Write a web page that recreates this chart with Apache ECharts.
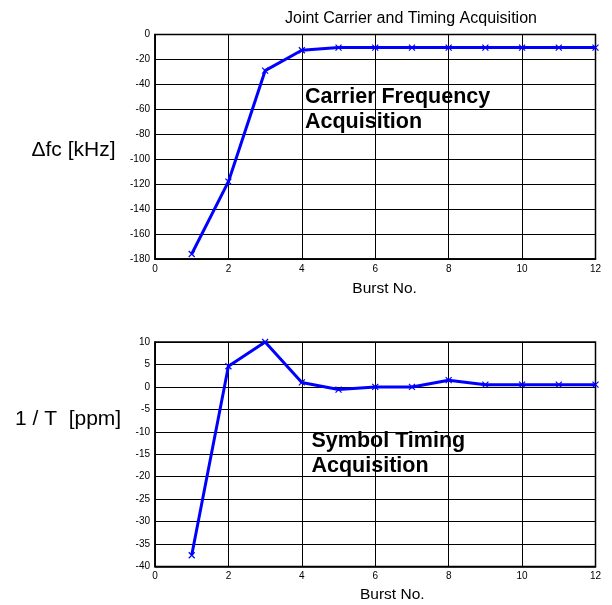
<!DOCTYPE html>
<html><head><meta charset="utf-8">
<script src="https://cdn.jsdelivr.net/npm/echarts@6/dist/echarts.min.js"></script>
<style>html,body{margin:0;padding:0;background:#fff}#c{width:612px;height:605px}</style>
</head><body><div id="c"></div>
<script>
const bursts = [1,2,3,4,5,6,7,8,9,10,11,12];
const freqOffset = [-176,-118,-29,-12.6,-10.5,-10.5,-10.5,-10.5,-10.5,-10.5,-10.5,-10.5];
const timingOffset = [-37.5,4.6,10,1.0,-0.6,0,0,1.5,0.5,0.5,0.5,0.5];
const title = 'Joint Carrier and Timing Acquisition';
const xName = 'Burst No.';
const yName1 = '\u0394fc [kHz]';
const yName2 = '1 / T  [ppm]';
const note1 = ['Carrier Frequency','Acquisition'];
const note2 = ['Symbol Timing','Acquisition'];

const FONT = 'Liberation Sans, Arial, sans-serif';
const chart = echarts.init(document.getElementById('c'), null, {renderer:'canvas'});
const gridLine = {show:true, lineStyle:{color:'#000', width:1}};
function xAxis(idx){
  return {type:'value', gridIndex:idx, min:0, max:12, interval:2,
    axisLine:{show:true, onZero:false, lineStyle:{color:'#000', width:1.5}},
    axisTick:{show:false},
    axisLabel:{color:'#000', fontSize:10, fontFamily:FONT, margin:5},
    splitLine:gridLine};
}
function yAxis(idx, min, max, interval){
  return {type:'value', gridIndex:idx, min:min, max:max, interval:interval,
    axisLine:{show:true, onZero:false, lineStyle:{color:'#000', width:1.5}},
    axisTick:{show:false},
    axisLabel:{color:'#000', fontSize:10, fontFamily:FONT, margin:5},
    splitLine:gridLine};
}
const xSym = 'path://M0,0L10,10M10,0L0,10';
function series(idx, data){
  return {type:'line', xAxisIndex:idx, yAxisIndex:idx,
    data: bursts.map((b,i)=>[b,data[i]]),
    lineStyle:{color:'#0000ff', width:3},
    symbol:xSym, symbolSize:6, showSymbol:true,
    itemStyle:{color:'rgba(0,0,0,0)', borderColor:'#0000ff', borderWidth:1.2},
    emphasis:{disabled:true}, animation:false, clip:false, z:5};
}
function noteText(x, y, lines){
  return {type:'text', left:x, top:y, z:10,
    style:{text:lines.join('\n'), font:'bold 21.5px '+FONT, fill:'#000', lineHeight:25.5}};
}
function plainText(x, y, txt, size){
  return {type:'text', left:x, top:y, z:10,
    style:{text:txt, font:size+'px '+FONT, fill:'#000'}};
}
chart.setOption({
  animation:false,
  backgroundColor:'#fff',
  graphic:[
    plainText(285, 11, title, 16),
    plainText(31.5, 139.5, yName1, 21),
    plainText(15, 408.5, yName2, 21),
    plainText(352.3, 280.5, xName, 15.5),
    plainText(360, 586.5, xName, 15.5),
    noteText(305, 84, note1),
    noteText(311.5, 428, note2)
  ],
  grid:[
    {left:155, top:34.5, width:440.5, height:224.5, show:true, borderColor:'#000', borderWidth:1.5, backgroundColor:'transparent'},
    {left:155, top:342, width:440.5, height:224.5, show:true, borderColor:'#000', borderWidth:1.5, backgroundColor:'transparent'}
  ],
  xAxis:[xAxis(0), xAxis(1)],
  yAxis:[yAxis(0,-180,0,20), yAxis(1,-40,10,5)],
  series:[series(0,freqOffset), series(1,timingOffset)]
});
</script></body></html>
